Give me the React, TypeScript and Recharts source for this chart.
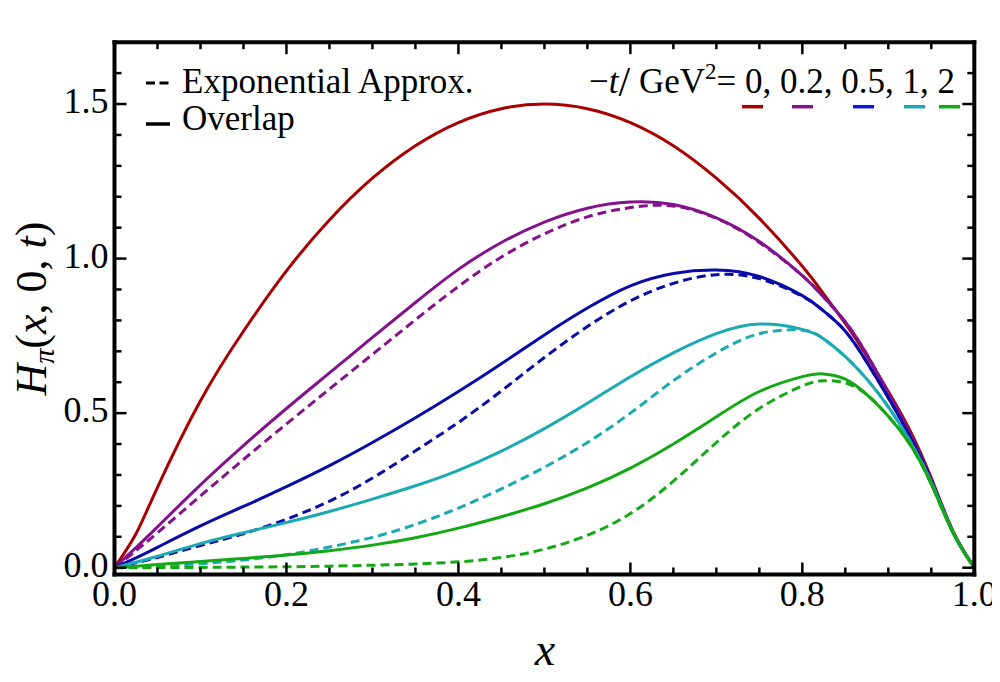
import React from 'react';
import { LineChart, Line, XAxis, YAxis } from 'recharts';

// x grid shared by all curves
const xs = [0, 0.025, 0.05, 0.1, 0.15, 0.2, 0.25, 0.3, 0.35, 0.4, 0.45, 0.5, 0.55, 0.6, 0.65, 0.7, 0.75, 0.8, 0.825, 0.85, 0.875, 0.9, 0.925, 0.95, 0.975, 1];

// -t = 0 (overlap and exponential approx. coincide)
const overlapT0 = [0, 0.11, 0.26, 0.54, 0.765, 0.96, 1.125, 1.26, 1.365, 1.44, 1.485, 1.5, 1.485, 1.44, 1.365, 1.26, 1.13, 0.975, 0.885, 0.79, 0.685, 0.57, 0.445, 0.29, 0.12, 0];
// -t = 0.2
const overlapT02 = [0, 0.065, 0.132, 0.268, 0.395, 0.515, 0.63, 0.745, 0.858, 0.965, 1.052, 1.118, 1.163, 1.183, 1.175, 1.132, 1.055, 0.945, 0.875, 0.795, 0.69, 0.565, 0.435, 0.283, 0.117, 0];
const expT02 = [0, 0.055, 0.113, 0.232, 0.35, 0.465, 0.578, 0.69, 0.802, 0.91, 1.005, 1.08, 1.135, 1.165, 1.17, 1.13, 1.052, 0.945, 0.875, 0.795, 0.69, 0.565, 0.435, 0.283, 0.117, 0];
// -t = 0.5
const overlapT05 = [0, 0.032, 0.066, 0.135, 0.198, 0.262, 0.33, 0.405, 0.485, 0.57, 0.66, 0.753, 0.84, 0.912, 0.952, 0.963, 0.942, 0.88, 0.83, 0.765, 0.665, 0.55, 0.425, 0.28, 0.116, 0];
const expT05 = [0, 0.016, 0.033, 0.072, 0.11, 0.157, 0.215, 0.29, 0.378, 0.47, 0.572, 0.68, 0.78, 0.863, 0.92, 0.948, 0.935, 0.878, 0.83, 0.765, 0.665, 0.55, 0.425, 0.28, 0.116, 0];
// -t = 1
const overlapT1 = [0, 0.018, 0.037, 0.078, 0.113, 0.146, 0.182, 0.222, 0.265, 0.315, 0.377, 0.45, 0.532, 0.618, 0.695, 0.757, 0.788, 0.771, 0.74, 0.683, 0.61, 0.52, 0.41, 0.276, 0.116, 0];
const expT1 = [0, 0.002, 0.005, 0.013, 0.025, 0.042, 0.067, 0.098, 0.14, 0.193, 0.255, 0.325, 0.405, 0.5, 0.605, 0.695, 0.757, 0.768, 0.74, 0.683, 0.61, 0.52, 0.41, 0.276, 0.116, 0];
// -t = 2
const overlapT2 = [0, 0.005, 0.01, 0.02, 0.03, 0.041, 0.055, 0.073, 0.097, 0.128, 0.165, 0.207, 0.258, 0.322, 0.4, 0.488, 0.57, 0.618, 0.627, 0.61, 0.56, 0.49, 0.4, 0.27, 0.115, 0];
const expT2 = [0, 0, 0.0005, 0.001, 0.002, 0.003, 0.005, 0.008, 0.012, 0.019, 0.033, 0.06, 0.105, 0.175, 0.28, 0.405, 0.515, 0.588, 0.605, 0.598, 0.56, 0.49, 0.4, 0.27, 0.115, 0];

const xTicks = [0, 0.05, 0.1, 0.15, 0.2, 0.25, 0.3, 0.35, 0.4, 0.45, 0.5, 0.55, 0.6, 0.65, 0.7, 0.75, 0.8, 0.85, 0.9, 0.95, 1];
const yTicks = [0, 0.1, 0.2, 0.3, 0.4, 0.5, 0.6, 0.7, 0.8, 0.9, 1, 1.1, 1.2, 1.3, 1.4, 1.5, 1.6];

const tLabels = ['0', '0.2', '0.5', '1', '2'];
const tColors = ['#a80000', '#84128c', '#0a0aa8', '#1aaab2', '#14a814'];
const legendColors = ['#a80000', '#84128c', '#0a14e6', '#1aaab2', '#14a814'];

const series = [
  { key: 'o0', values: overlapT0, color: tColors[0], dashed: false },
  { key: 'e02', values: expT02, color: tColors[1], dashed: true },
  { key: 'o02', values: overlapT02, color: tColors[1], dashed: false },
  { key: 'e05', values: expT05, color: tColors[2], dashed: true },
  { key: 'o05', values: overlapT05, color: tColors[2], dashed: false },
  { key: 'e1', values: expT1, color: tColors[3], dashed: true },
  { key: 'o1', values: overlapT1, color: tColors[3], dashed: false },
  { key: 'e2', values: expT2, color: tColors[4], dashed: true },
  { key: 'o2', values: overlapT2, color: tColors[4], dashed: false },
];

const rows = xs.map((x, i) => {
  const r: Record<string, number> = { x };
  series.forEach((s) => (r[s.key] = s.values[i]));
  return r;
});

const FONT = '"Liberation Serif", "Times New Roman", serif';
const W = 992;
const H = 666;

const isMajor = (v: number, step: number) => Math.abs(v / step - Math.round(v / step)) < 1e-6;

function BottomTick(props: any) {
  const { x, y, payload } = props;
  const major = isMajor(payload.value, 0.2);
  return (
    <g>
      <line x1={x} x2={x} y1={y} y2={y - (major ? 12 : 7)} stroke="#000" strokeWidth={2.5} />
      {major && (
        <text x={x} y={y + 31} textAnchor="middle" fontSize={36} fontFamily={FONT} fill="#000">
          {payload.value.toFixed(1)}
        </text>
      )}
    </g>
  );
}

function TopTick(props: any) {
  const { x, y, payload } = props;
  const major = isMajor(payload.value, 0.2);
  return <line x1={x} x2={x} y1={y} y2={y + (major ? 12 : 7)} stroke="#000" strokeWidth={2.5} />;
}

function LeftTick(props: any) {
  const { x, y, payload } = props;
  const major = isMajor(payload.value, 0.5);
  return (
    <g>
      <line x1={x} x2={x + (major ? 12 : 7)} y1={y} y2={y} stroke="#000" strokeWidth={2.5} />
      {major && (
        <text x={x - 6} y={y + 9} textAnchor="end" fontSize={36} fontFamily={FONT} fill="#000">
          {payload.value.toFixed(1)}
        </text>
      )}
    </g>
  );
}

function RightTick(props: any) {
  const { x, y, payload } = props;
  const major = isMajor(payload.value, 0.5);
  return <line x1={x} x2={x - (major ? 12 : 7)} y1={y} y2={y} stroke="#000" strokeWidth={2.5} />;
}

const frame = { stroke: '#000', strokeWidth: 4, strokeLinecap: 'square' as const };

export default function App() {
  return (
    <div style={{ position: 'relative', width: W, height: H }}>
      <style>{'html { overflow: hidden; } .recharts-wrapper, .recharts-surface { overflow: visible; }'}</style>
      <LineChart width={W} height={H} data={rows} margin={{ top: 24.2, right: 15.7, left: 6.5, bottom: 39.5 }}>
        <XAxis
          xAxisId="b"
          dataKey="x"
          type="number"
          domain={[0, 1]}
          allowDataOverflow
          ticks={xTicks}
          interval={0}
          height={60}
          tickSize={0}
          tickMargin={0}
          tickLine={false}
          axisLine={frame}
          tick={(p: any) => <BottomTick {...p} />}
        />
        <XAxis
          xAxisId="t"
          dataKey="x"
          orientation="top"
          type="number"
          domain={[0, 1]}
          allowDataOverflow
          ticks={xTicks}
          interval={0}
          height={10}
          tickSize={0}
          tickMargin={0}
          tickLine={false}
          axisLine={frame}
          tick={(p: any) => <TopTick {...p} />}
        />
        <YAxis
          yAxisId="l"
          type="number"
          domain={[-0.022, 1.7]}
          allowDataOverflow
          ticks={yTicks}
          interval={0}
          width={100}
          tickSize={0}
          tickMargin={0}
          tickLine={false}
          axisLine={frame}
          tick={(p: any) => <LeftTick {...p} />}
        />
        <YAxis
          yAxisId="r"
          orientation="right"
          type="number"
          domain={[-0.022, 1.7]}
          allowDataOverflow
          ticks={yTicks}
          interval={0}
          width={10}
          tickSize={0}
          tickMargin={0}
          tickLine={false}
          axisLine={frame}
          tick={(p: any) => <RightTick {...p} />}
        />
        {series.map((s) => (
          <Line
            key={s.key}
            xAxisId="b"
            yAxisId="l"
            type="natural"
            dataKey={s.key}
            stroke={s.color}
            strokeWidth={3}
            strokeDasharray={s.dashed ? '9 5' : undefined}
            dot={false}
            activeDot={false}
            isAnimationActive={false}
          />
        ))}
      </LineChart>
      <svg width={W} height={H} style={{ position: 'absolute', left: 0, top: 0, pointerEvents: 'none' }}>
        <g fontFamily={FONT} fill="#000">
          <line x1={138} x2={161} y1={75} y2={75} stroke="#000" strokeWidth={3} strokeDasharray="9 4.5" />
          <text x={174} y={85} fontSize={35}>Exponential Approx.</text>
          <line x1={138} x2={162} y1={116} y2={116} stroke="#000" strokeWidth={3.5} />
          <text x={174} y={122} fontSize={35}>Overlap</text>
          <text x={947} y={85} fontSize={35} textAnchor="end">
            <tspan>−</tspan>
            <tspan fontStyle="italic">t</tspan>
            <tspan fontSize={42} dy={3}>/</tspan>
            <tspan dy={-3}> GeV</tspan>
            <tspan fontSize={23} dy={-14}>2</tspan>
            <tspan dy={14}>= {tLabels.join(', ')}</tspan>
          </text>
          {[734, 784, 845, 896, 931].map((x0, i) => (
            <line key={i} x1={x0} x2={x0 + 21} y1={98.7} y2={98.7} stroke={legendColors[i]} strokeWidth={3.5} />
          ))}
          <text x={537} y={657} fontSize={46} fontStyle="italic" textAnchor="middle">x</text>
          <text transform="translate(38,300.5) rotate(-90)" fontSize={44} textAnchor="middle">
            <tspan fontStyle="italic">H</tspan>
            <tspan fontStyle="italic" fontSize={30} dy={8}>π</tspan>
            <tspan dy={-8}>(</tspan>
            <tspan fontStyle="italic">x</tspan>
            <tspan>, 0, </tspan>
            <tspan fontStyle="italic">t</tspan>
            <tspan>)</tspan>
          </text>
        </g>
      </svg>
    </div>
  );
}
